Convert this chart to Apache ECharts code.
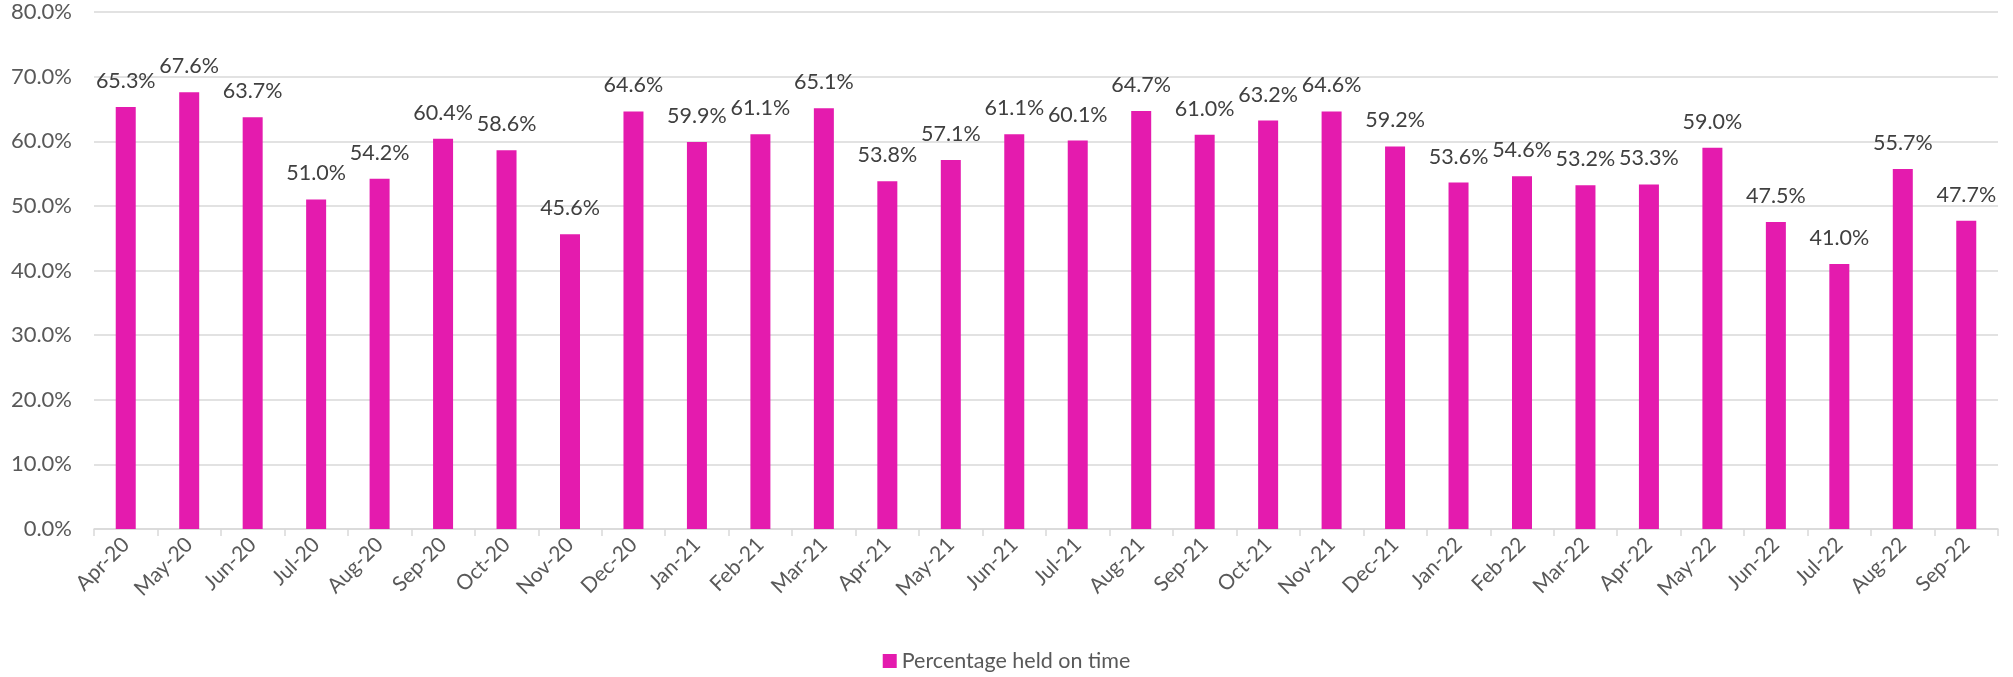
<!DOCTYPE html>
<html><head><meta charset="utf-8">
<script src="https://cdn.jsdelivr.net/npm/echarts@6/dist/echarts.min.js"></script>
<style>html,body{margin:0;padding:0;background:#fff}#c{width:2013px;height:677px}</style>
</head><body><div id="c"></div>
<script>
const categories = ['Apr-20','May-20','Jun-20','Jul-20','Aug-20','Sep-20','Oct-20','Nov-20','Dec-20','Jan-21','Feb-21','Mar-21','Apr-21','May-21','Jun-21','Jul-21','Aug-21','Sep-21','Oct-21','Nov-21','Dec-21','Jan-22','Feb-22','Mar-22','Apr-22','May-22','Jun-22','Jul-22','Aug-22','Sep-22'];
const heldOnTime = [65.3,67.6,63.7,51.0,54.2,60.4,58.6,45.6,64.6,59.9,61.1,65.1,53.8,57.1,61.1,60.1,64.7,61.0,63.2,64.6,59.2,53.6,54.6,53.2,53.3,59.0,47.5,41.0,55.7,47.7];
const seriesName = 'Percentage held on time';
const FONT = 'Lato, "Open Sans", sans-serif';
const chart = echarts.init(document.getElementById('c'));
chart.setOption({
  animation: false,
  textStyle: {fontFamily: FONT},
  grid: {left: 94, right: 15, top: 12, bottom: 148},
  legend: {
    top: 645, left: 'center', itemWidth: 14, itemHeight: 14, itemGap: 8,
    icon: 'rect',
    textStyle: {fontFamily: FONT, fontSize: 21.5, color: '#595959'},
    data: [seriesName]
  },
  xAxis: {
    type: 'category', data: categories,
    axisLine: {lineStyle: {color: '#d9d9d9', width: 1.5}},
    axisTick: {show: true, length: 7, lineStyle: {color: '#d9d9d9', width: 1.5}},
    axisLabel: {rotate: 45, interval: 0, fontFamily: FONT, fontSize: 21, color: '#595959', margin: 12}
  },
  yAxis: {
    type: 'value', min: 0, max: 80, interval: 10,
    axisLine: {show: false}, axisTick: {show: false},
    splitLine: {lineStyle: {color: '#d9d9d9', width: 1.5}},
    axisLabel: {formatter: v => v.toFixed(1) + '%', fontFamily: FONT, fontSize: 22, color: '#595959', margin: 22}
  },
  series: [{
    name: seriesName, type: 'bar', data: heldOnTime, barWidth: 20,
    itemStyle: {color: '#E41BAE'},
    label: {show: true, position: 'top', distance: 15, formatter: p => p.value.toFixed(1) + '%',
      fontFamily: FONT, fontSize: 21.5, color: '#404040'}
  }]
});
</script></body></html>
